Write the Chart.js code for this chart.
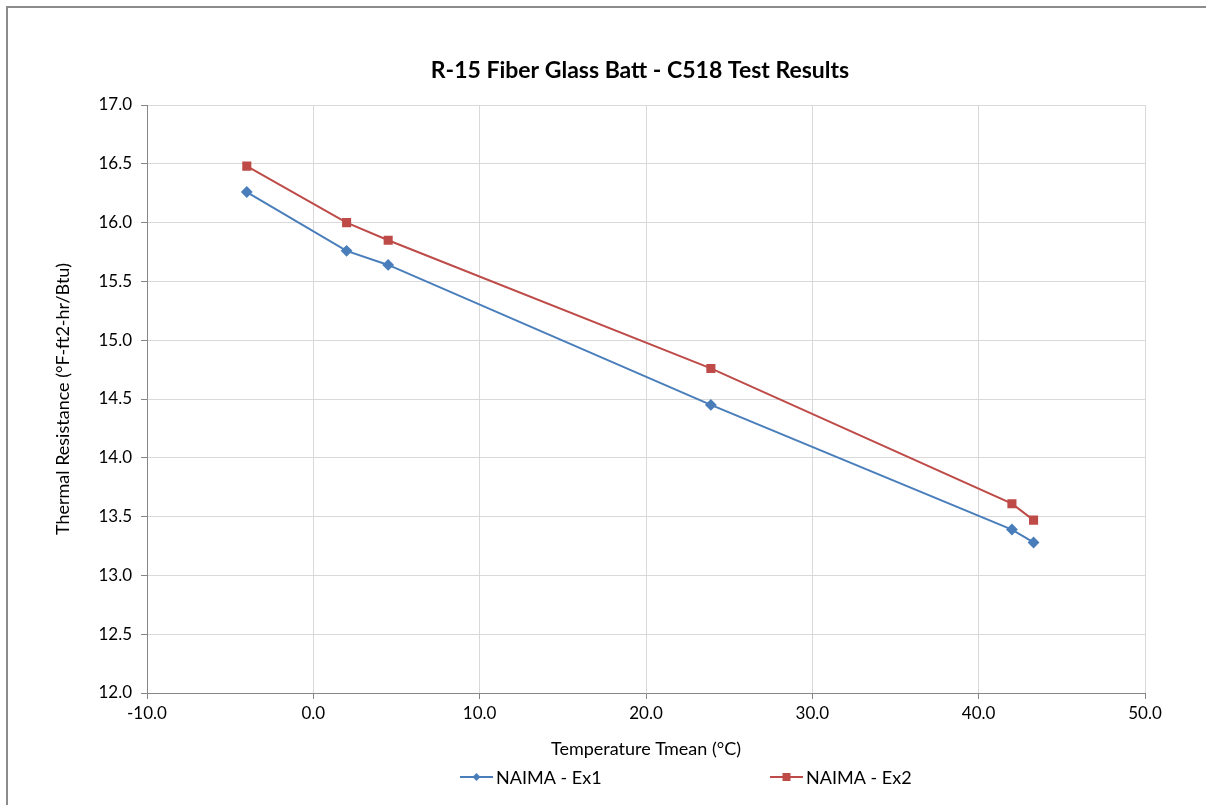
<!DOCTYPE html>
<html>
<head>
<meta charset="utf-8">
<script src="https://cdn.jsdelivr.net/npm/chart.js@4/dist/chart.umd.min.js"></script>
<style>
  html, body { margin: 0; padding: 0; background: #fff; }
  .frame {
    position: absolute; left: 6px; top: 6px; right: 0; bottom: 0;
    border-left: 2px solid #8c8c8c; border-top: 2px solid #8c8c8c;
  }
  .chart-container { position: absolute; left: 0; top: 0; width: 1206px; height: 805px; }
</style>
</head>
<body>
<div class="frame"></div>
<div class="chart-container"><canvas id="chart"></canvas></div>
<script>
// temperature (°C) and R-value readings
const tempEx1 = [-4.0, 2.0, 4.5, 23.9, 42.0, 43.3];
const rEx1 = [16.26, 15.76, 15.64, 14.45, 13.39, 13.28];
const tempEx2 = [-4.0, 2.0, 4.5, 23.9, 42.0, 43.3];
const rEx2 = [16.48, 16.00, 15.85, 14.76, 13.61, 13.47];
const seriesNames = ['NAIMA - Ex1', 'NAIMA - Ex2'];

const BLUE = '#4a7ebb';
const RED = '#be4b48';
const FONT = 'Lato, "Open Sans", sans-serif';

const toPoints = (xs, ys) => xs.map((x, i) => ({ x, y: ys[i] }));

// title + Excel-style legend (line with marker in the middle)
const extras = {
  id: 'extras',
  afterDraw(chart) {
    const { ctx, chartArea } = chart;
    ctx.save();
    ctx.fillStyle = '#000';
    ctx.font = 'bold 23px ' + FONT;
    ctx.textAlign = 'center';
    ctx.textBaseline = 'middle';
    ctx.fillText('R-15 Fiber Glass Batt - C518 Test Results', (chartArea.left + chartArea.right) / 2 - 6, 71);

    const items = [{ x: 460 }, { x: 770 }];
    ctx.font = '18px ' + FONT;
    ctx.textAlign = 'left';
    chart.data.datasets.forEach((ds, i) => {
      const x0 = items[i].x, y = 777;
      ctx.strokeStyle = ds.borderColor;
      ctx.lineWidth = 2;
      ctx.beginPath();
      ctx.moveTo(x0, y);
      ctx.lineTo(x0 + 33, y);
      ctx.stroke();
      ctx.fillStyle = ds.borderColor;
      const cx = x0 + 16.5;
      if (ds.pointStyle === 'rectRot') {
        ctx.beginPath();
        ctx.moveTo(cx, y - 4); ctx.lineTo(cx + 4, y); ctx.lineTo(cx, y + 4); ctx.lineTo(cx - 4, y);
        ctx.closePath(); ctx.fill();
      } else {
        ctx.fillRect(cx - 4, y - 4, 8, 8);
      }
      ctx.fillStyle = '#000';
      ctx.fillText(ds.label, x0 + 36, y + 1);
    });
    ctx.restore();
  }
};

new Chart(document.getElementById('chart'), {
  type: 'line',
  data: {
    datasets: [
      {
        label: seriesNames[0],
        data: toPoints(tempEx1, rEx1),
        borderColor: BLUE,
        backgroundColor: BLUE,
        borderWidth: 2,
        pointStyle: 'rectRot',
        pointRadius: 4.5,
        pointHoverRadius: 4.5,
        tension: 0,
      },
      {
        label: seriesNames[1],
        data: toPoints(tempEx2, rEx2),
        borderColor: RED,
        backgroundColor: RED,
        borderWidth: 2,
        pointStyle: 'rect',
        pointRadius: 5,
        pointHoverRadius: 5,
        tension: 0,
      },
    ],
  },
  options: {
    responsive: true,
    maintainAspectRatio: false,
    animation: false,
    layout: { padding: { left: 45, right: 61, top: 105, bottom: 42 } },
    plugins: {
      legend: { display: false },
      title: { display: false },
      tooltip: { enabled: false },
    },
    scales: {
      x: {
        type: 'linear',
        min: -10,
        max: 50,
        afterFit: (s) => { s.height = 70; },
        ticks: {
          stepSize: 10,
          padding: 4,
          color: '#000',
          font: { family: FONT, size: 17 },
          callback: (v) => v.toFixed(1),
        },
        grid: { color: '#d9d9d9', tickColor: '#868686', tickLength: 6, lineWidth: 1 },
        border: { color: '#868686', width: 1 },
        title: {
          display: true,
          text: 'Temperature Tmean (°C)',
          color: '#000',
          font: { family: FONT, size: 18 },
          padding: { top: 0, bottom: 3 },
        },
      },
      y: {
        type: 'linear',
        min: 12,
        max: 17,
        afterFit: (s) => { s.width = 102; },
        ticks: {
          stepSize: 0.5,
          padding: 9,
          color: '#000',
          font: { family: FONT, size: 17 },
          callback: (v) => v.toFixed(1),
        },
        grid: { color: '#d9d9d9', tickColor: '#868686', tickLength: 6, lineWidth: 1 },
        border: { color: '#868686', width: 1 },
        title: {
          display: true,
          text: 'Thermal Resistance (°F-ft2-hr/Btu)',
          color: '#000',
          font: { family: FONT, size: 18 },
          padding: { top: 7, bottom: 0 },
        },
      },
    },
  },
  plugins: [extras],
});
</script>
</body>
</html>
